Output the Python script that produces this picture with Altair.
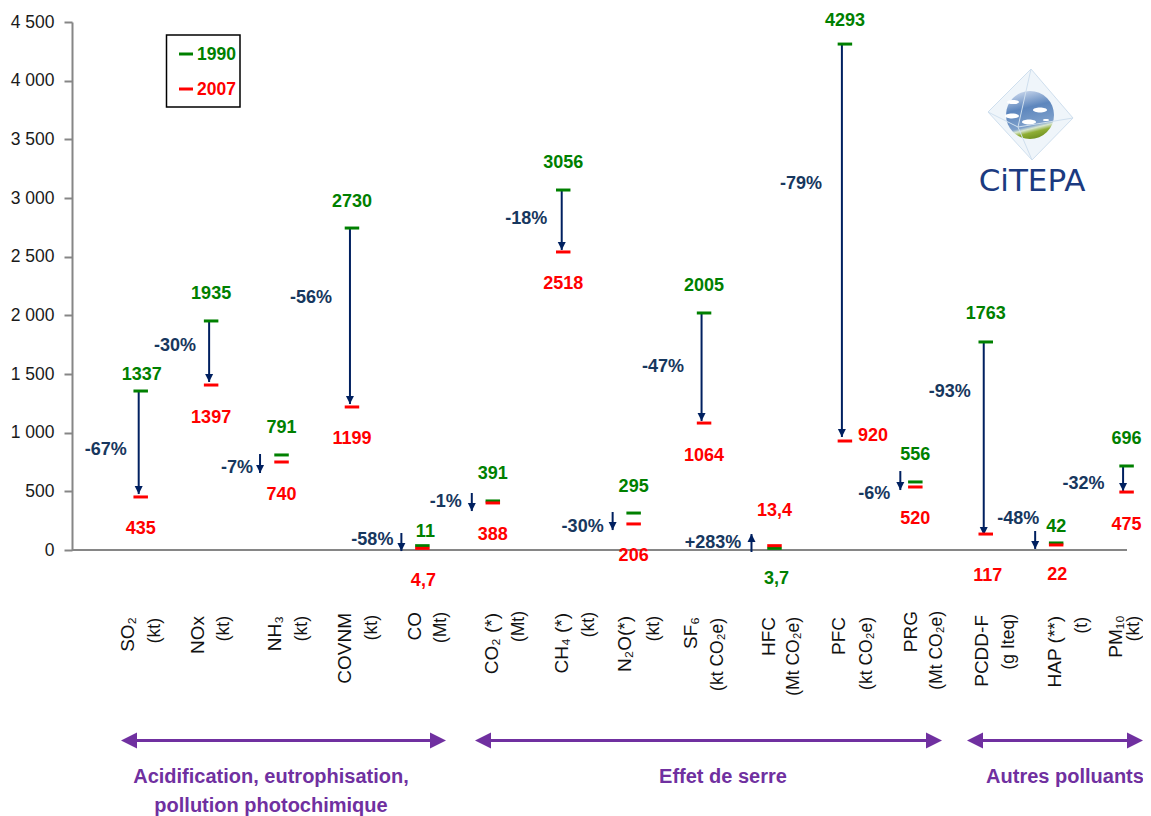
import altair as alt
import pandas as pd

# ---- data -----------------------------------------------------------------
names = ["SO₂", "NOx", "NH₃", "COVNM", "CO", "CO₂ (*)", "CH₄ (*)", "N₂O(*)", "SF₆", "HFC", "PFC", "PRG", "PCDD-F", "HAP (**)", "PM₁₀"]
units = ["(kt)", "(kt)", "(kt)", "(kt)", "(Mt)", "(Mt)", "(kt)", "(kt)", "(kt CO₂e)", "(Mt CO₂e)", "(kt CO₂e)", "(Mt CO₂e)", "(g Iteq)", "(t)", "(kt)"]
labels_1990 = ["1337", "1935", "791", "2730", "11", "391", "3056", "295", "2005", "3,7", "4293", "556", "1763", "42", "696"]
labels_2007 = ["435", "1397", "740", "1199", "4,7", "388", "2518", "206", "1064", "13,4", "920", "520", "117", "22", "475"]
changes = ["-67%", "-30%", "-7%", "-56%", "-58%", "-1%", "-18%", "-30%", "-47%", "+283%", "-79%", "-6%", "-93%", "-48%", "-32%"]
level_1990 = [1355, 1952, 810, 2744, 37, 418, 3068, 315, 2020, 14, 4312, 580, 1773, 60, 716]
level_2007 = [452, 1406, 750, 1219, 14, 401, 2540, 222, 1082, 37, 929, 537, 136, 43, 494]
arrow_start = [1355, 1952, 818, 2744, 145, 486, 3068, 324, 2020, -17, 4312, 673, 1773, 162, 716]
arrow_tip = [477, 1432, 656, 1244, -9, 332, 2557, 170, 1099, 136, 963, 511, 128, 9, 503]
y_ticks = [0, 500, 1000, 1500, 2000, 2500, 3000, 3500, 4000, 4500]
families = [
    (["Acidification, eutrophisation,", "pollution photochimique"], 121, 446, 271),
    (["Effet de serre"], 475, 942, 723),
    (["Autres polluants"], 967, 1143, 1065),
]
legend_years = ["1990", "2007"]
logo_text = "CiTEPA"

# ---- layout (pixel offsets from the scaled anchors) ------------------------
OFF_1990 = [(1, -18), (0, -28), (0, -28), (0, -28), (3, -15), (0, -28), (0, -29), (0, -28), (0, -28), (2, 29), (0, -25), (0, -28), (0, -29), (0, -17), (0, -28)]
OFF_2007 = [(0, 31), (0, 31), (0, 31), (0, 31), (1, 31), (0, 31), (0, 31), (0, 31), (0, 31), (0, -36), (28, -6), (0, 31), (2, 40), (1, 29), (0, 31)]
OFF_PCT = [(-35, 57), (-36, 24), (-44.5, 12), (-41, 68), (-50, -7), (-47, 0), (-37, 27), (-51, 12), (-41, 53), (-61.5, -7), (-44, 138), (-41, 11), (-36, 49), (-38, -25), (-43, 17)]
ARROW_SHIFT = [-2, -2, -21.5, -2, -21, -21, -1.5, -21, -2.5, -23, -3, -15, -2, -21, -3.5]
NAME_OFF = [(-13, 617), (-13, 616), (-6.5, 616), (-7, 613), (-7.4, 612), (-1, 613), (-1, 613), (-9, 616), (-13, 617), (-5.5, 617), (-6, 617), (-4.3, 611), (-4, 615), (-1, 616), (-10.6, 615)]
UNIT_OFF = [(14, 618), (13, 616), (20.5, 616), (20, 615), (18.6, 612), (26, 611), (26, 612), (20, 616), (14, 618), (19.5, 617), (22, 617), (21.7, 611), (23, 614), (26, 617), (7, 616)]
TEXT_NUDGE = 1.5

LEFT, TOP, W, H = 72, 22, 1055, 528
TOTAL_W, TOTAL_H = 1135, 808
STEP = 70.42
FIRST = 140.7
BOLD_FONT = "Liberation Sans"
SANS = "Liberation Sans, Arial"
GREEN, RED, NAVY, PCT, PURPLE, GREY = "#008000", "#ff0000", "#002060", "#17375e", "#7030a0", "#868686"

XS = alt.Scale(domain=[(LEFT - FIRST) / STEP, (LEFT + W - FIRST) / STEP], nice=False, zero=False, padding=0)
YS = alt.Scale(domain=[0, 4500], nice=False, padding=0)
X = alt.X("pos:Q", scale=XS, axis=None)
Y = alt.Y("value:Q", scale=YS, title=None)


def yf(field):
    return alt.Y(field, scale=YS, title=None)


def px(x):
    return alt.value(x - LEFT)


def py(y):
    return alt.value(y - TOP)


layers = []

# y axis
layers.append(
    alt.Chart(pd.DataFrame({"value": y_ticks, "pos": 0}))
    .mark_point(opacity=0)
    .encode(
        y=alt.Y(
            "value:Q",
            scale=YS,
            title=None,
            axis=alt.Axis(
                values=y_ticks,
                grid=False,
                domainColor=GREY,
                domainWidth=2,
                tickColor=GREY,
                tickWidth=2,
                tickSize=8,
                labelFont=SANS,
                labelFontSize=17.5,
                labelColor="#1a1a1a",
                labelPadding=10,
                labelExpr="replace(format(datum.value, ','), ',', ' ')",
            ),
        ),
        x=X,
    )
)

# baseline
layers.append(
    alt.Chart(pd.DataFrame({"value": [0]}))
    .mark_rule(color=GREY, strokeWidth=2)
    .encode(y=Y, x=alt.value(0), x2=alt.value(W))
)

base = pd.DataFrame(
    {
        "pos": list(range(15)),
        "level_1990": level_1990,
        "level_2007": level_2007,
    }
)

# arrows
for i in range(15):
    p = i + ARROW_SHIFT[i] / STEP
    arrow = pd.DataFrame({"pos": [p], "value": [arrow_start[i]], "tip": [arrow_tip[i]]})
    up = arrow_tip[i] > arrow_start[i]
    layers.append(
        alt.Chart(arrow).mark_rule(color=NAVY, strokeWidth=2).encode(x=X, y=Y, y2="tip:Q")
    )
    layers.append(
        alt.Chart(arrow)
        .mark_point(
            shape="M0,0L-1,2L1,2Z" if up else "M0,0L-1,-2L1,-2Z",
            filled=True,
            color=NAVY,
            opacity=1,
            size=64,
            strokeWidth=0,
        )
        .encode(x=X, y=yf("tip:Q"))
    )

# level ticks
for field, col in (("level_1990", GREEN), ("level_2007", RED)):
    layers.append(
        alt.Chart(base)
        .mark_tick(color=col, size=14.5, thickness=3, orient="horizontal", opacity=1)
        .encode(x=X, y=yf(f"{field}:Q"))
    )


def value_text(i, value, text, off, color, size=18):
    df = pd.DataFrame({"pos": [i], "value": [value], "label": [text]})
    return (
        alt.Chart(df)
        .mark_text(
            font=BOLD_FONT, fontWeight="bold", fontSize=size, color=color,
            align="center", baseline="middle", dx=off[0], dy=off[1] + TEXT_NUDGE,
        )
        .encode(x=X, y=Y, text="label:N")
    )


def rotated_text(i, text, off, size):
    # rotated text: dx runs along the text (upwards), dy across it (to the right)
    df = pd.DataFrame({"pos": [i], "value": [0], "label": [text]})
    return (
        alt.Chart(df)
        .mark_text(
            font=SANS, fontSize=size, color="#111111", angle=270,
            align="right", baseline="middle",
            dx=-(off[1] - (TOP + H)), dy=off[0],
        )
        .encode(x=X, y=Y, text="label:N")
    )


for i in range(15):
    layers.append(value_text(i, level_1990[i], labels_1990[i], OFF_1990[i], GREEN))
    layers.append(value_text(i, level_2007[i], labels_2007[i], OFF_2007[i], RED))
    layers.append(value_text(i, level_1990[i], changes[i], OFF_PCT[i], PCT))
    layers.append(rotated_text(i, names[i], NAME_OFF[i], 19))
    layers.append(rotated_text(i, units[i], UNIT_OFF[i], 17.5))

one = pd.DataFrame({"k": [0]})


def fixed_text(x, y, text, color, size, font=BOLD_FONT, weight="bold", align="center"):
    return (
        alt.Chart(pd.DataFrame({"label": [text]}))
        .mark_text(font=font, fontWeight=weight, fontSize=size, color=color, align=align, baseline="middle")
        .encode(x=px(x), y=py(y), text="label:N")
    )


def segment(x1, y1, x2, y2, color, width):
    return (
        alt.Chart(one)
        .mark_rule(color=color, strokeWidth=width)
        .encode(x=px(x1), x2=px(x2), y=py(y1), y2=py(y2))
    )


def blob(x, y, size, shape, color, opacity=1.0):
    return (
        alt.Chart(one)
        .mark_point(shape=shape, filled=True, color=color, opacity=opacity, size=size, strokeWidth=0)
        .encode(x=px(x), y=py(y))
    )


# legend box
layers.append(
    alt.Chart(one)
    .mark_rect(fill="white", stroke="black", strokeWidth=1.5)
    .encode(x=px(166.5), x2=px(240), y=py(35), y2=py(107))
)
for yr, y, col in zip(legend_years, (54, 89), (GREEN, RED)):
    layers.append(segment(179, y, 193, y, col, 3))
    layers.append(fixed_text(197, y + 1, yr, col, 17.5, align="left"))

# family arrows and captions
ARROW_Y = 740.5
for lines, x0, x1, xc in families:
    layers.append(segment(x0 + 10, ARROW_Y, x1 - 10, ARROW_Y, PURPLE, 3))
    layers.append(blob(x0, ARROW_Y, 256, "M0,0L2,-1L2,1Z", PURPLE))
    layers.append(blob(x1, ARROW_Y, 256, "M0,0L-2,-1L-2,1Z", PURPLE))
    for n, line in enumerate(lines):
        layers.append(fixed_text(xc, 777 + 29 * n, line, PURPLE, 20))

# logo
layers.append(blob(1030, 114, 1600, "M0.05,-2.25L-2.1,-0.1L0.1,2.3L2.15,0.2Z", "#dbe8f3", 0.45))
globe = alt.Gradient(
    gradient="linear", x1=0.35, y1=0, x2=0.6, y2=1,
    stops=[
        alt.GradientStop(color="#c4d3ea", offset=0),
        alt.GradientStop(color="#5d86bd", offset=0.35),
        alt.GradientStop(color="#7ea0cb", offset=0.72),
        alt.GradientStop(color="#d8e6d0", offset=0.78),
        alt.GradientStop(color="#8fae35", offset=0.86),
        alt.GradientStop(color="#6f9020", offset=1),
    ],
)
layers.append(
    alt.Chart(one)
    .mark_point(shape="circle", filled=True, fill=globe, opacity=1, size=2304, strokeWidth=0)
    .encode(x=px(1030), y=py(115))
)
ELLIPSE = "M-1,0A1,0.35 0 1,1 1,0A1,0.35 0 1,1 -1,0Z"
for cx_, cy_, s in [(1040, 110, 196), (1029, 122, 196), (1013, 102, 144), (1012, 116, 196), (1046, 120, 40)]:
    layers.append(blob(cx_, cy_, s, ELLIPSE, "white"))
EDGE = "#cfdfee"
top_v, left_v, right_v, bottom_v, front_v = (1031, 69), (988, 112), (1073, 118), (1032, 160), (1018, 127)
for a, b in [(top_v, left_v), (top_v, right_v), (left_v, bottom_v), (right_v, bottom_v), (top_v, front_v), (left_v, front_v), (right_v, front_v), (bottom_v, front_v)]:
    layers.append(segment(a[0], a[1], b[0], b[1], EDGE, 1))
layers.append(fixed_text(1032, 182, logo_text, "#1b3a80", 31, font="DejaVu Sans", weight="normal"))

chart = (
    alt.layer(*layers)
    .properties(
        width=W,
        height=H,
        padding={"left": LEFT - 8, "top": TOP - 8, "right": TOTAL_W - (LEFT - 8) - W, "bottom": TOTAL_H - (TOP - 8) - H},
        autosize=alt.AutoSizeParams(type="none"),
        background="white",
    )
    .configure_view(stroke=None)
)

chart.save("out.html", embed_options={"renderer": "svg", "actions": False})
